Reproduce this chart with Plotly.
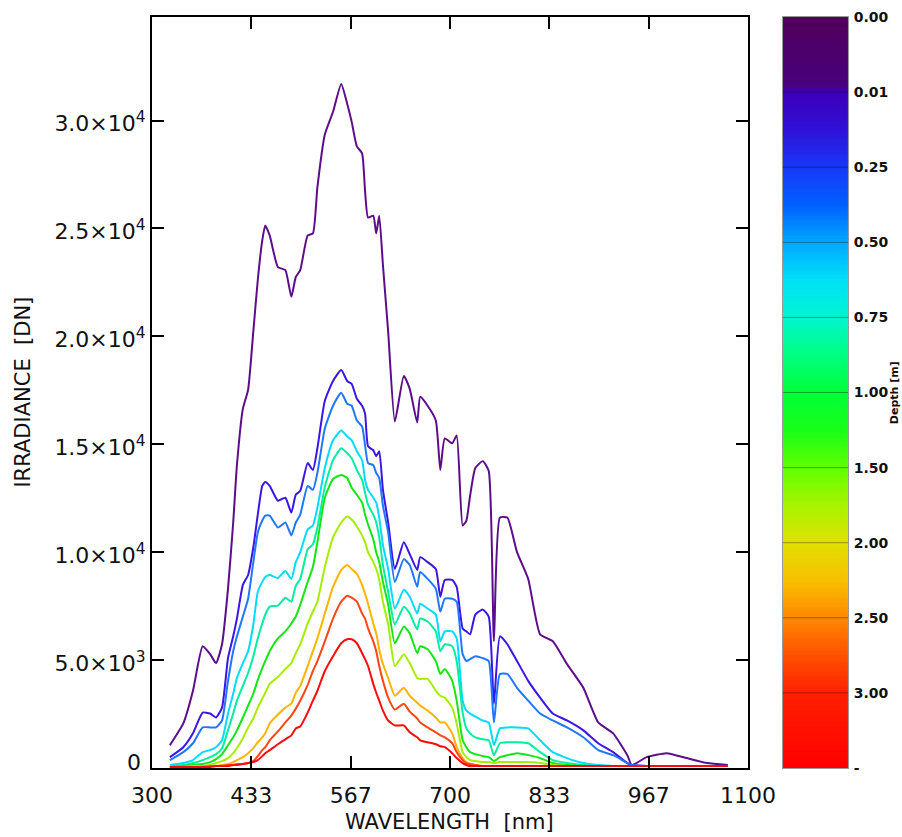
import numpy as np
import plotly.graph_objects as go

# ---------------- data ----------------
wavelength = [324, 342, 355, 368, 378, 386, 394, 402, 409, 414, 422, 429, 436, 442, 448, 452, 458, 469, 479, 487,
              493, 499, 509, 516, 522, 532, 543, 554, 562, 568, 575, 582, 586, 590, 597, 601, 605, 610, 617, 626,
              638, 646, 656, 660, 670, 681, 687, 693, 703, 709, 717, 722, 727, 734, 744, 752, 759, 767, 777, 790,
              805, 821, 838, 857, 879, 899, 919, 938, 944, 964, 991, 1018, 1045, 1073]

depth_labels = ["0.00", "0.01", "0.25", "0.50", "0.75", "1.00", "1.50", "2.00", "2.50", "3.00", "-"]

irr_d000 = [1055, 2064, 3578, 5642, 5275, 4862, 5734, 8302, 11376, 14036, 16651, 17522, 20229, 22614, 24449, 25137, 24678, 23210, 23073, 21834,
            22752, 23073, 24678, 24770, 26900, 29357, 30412, 31696, 30779, 29953, 28806, 28485, 26742, 25504, 25595, 24770, 25595, 23302, 20229, 16055,
            18165, 17568, 16009, 17201, 16788, 16100, 13807, 15275, 15045, 15412, 11238, 11468, 12614, 13899, 14220, 13761, 5871, 11605, 11605, 10000,
            8761, 6192, 5871, 4816, 3715, 2110, 1605, 596, 138, 505, 688, 459, 229, 138]
irr_d001 = [505, 963, 1605, 2569, 2523, 2339, 2798, 5092, 6101, 6926, 8486, 8945, 10229, 11743, 13073, 13256, 13073, 12385, 12523, 11834,
            12660, 12844, 14128, 13807, 14816, 17018, 17935, 18440, 17935, 17798, 17110, 16788, 16421, 14908, 14724, 14449, 14678, 12889, 11376, 9220,
            10458, 9908, 9174, 9770, 9541, 9220, 7936, 8715, 8715, 8394, 6468, 6330, 6192, 7110, 7339, 7018, 2982, 6101, 5734, 4954,
            4037, 3257, 2523, 2202, 1743, 1147, 734, 229, 138, 92, 92, 92, 92, 92]
irr_d025 = [367, 734, 1147, 1881, 1881, 1881, 2202, 4037, 5413, 6101, 7018, 7844, 9541, 10917, 11468, 11697, 11697, 11146, 11376, 10779,
            11376, 11743, 13073, 12889, 13669, 15733, 16788, 17385, 16880, 16788, 16100, 15825, 14954, 14128, 14036, 13669, 13440, 12156, 10917, 8624,
            9679, 9403, 8394, 9082, 8761, 8302, 7247, 7844, 7844, 7706, 5275, 4954, 5046, 5183, 5092, 4954, 2110, 4358, 4358, 3715,
            3119, 2523, 2202, 1881, 1422, 826, 596, 229, 138, 92, 92, 92, 92, 92]
irr_d050 = [138, 229, 367, 734, 826, 963, 1284, 2523, 3440, 4174, 4862, 5413, 6651, 8165, 8624, 8853, 8945, 8807, 9128, 8761,
            9541, 10000, 11055, 11238, 12064, 13899, 15183, 15642, 15366, 15183, 14678, 14266, 13348, 12889, 12523, 12293, 11605, 10321, 9220, 7385,
            8257, 7936, 7156, 7614, 7385, 7110, 5871, 6330, 6330, 6009, 3119, 2660, 2523, 2385, 2202, 2110, 1055, 1835, 1881, 1881,
            1835, 1284, 734, 459, 229, 138, 92, 92, 92, 92, 92, 92, 92, 92]
irr_d075 = [92, 138, 229, 367, 505, 642, 917, 1743, 2523, 3119, 3807, 4404, 5183, 6009, 6697, 7110, 7477, 7523, 7890, 7706,
            8440, 8761, 10137, 10367, 11146, 13027, 14266, 14816, 14587, 14357, 13807, 13348, 12752, 12201, 11743, 11376, 10688, 9403, 8165, 6651,
            7477, 7156, 6422, 6926, 6789, 6330, 5413, 5734, 5642, 4954, 2569, 1835, 1605, 1422, 1330, 1284, 596, 1147, 1193, 1193,
            1147, 734, 367, 229, 138, 92, 92, 92, 92, 92, 92, 92, 92, 92]
irr_d100 = [46, 92, 138, 183, 275, 413, 642, 1055, 1422, 1743, 2339, 2890, 3440, 4082, 4633, 4954, 5413, 6009, 6330, 6697,
            7018, 7569, 8624, 9312, 10458, 12523, 13394, 13578, 13440, 12981, 12660, 12293, 11743, 11284, 10596, 10000, 9541, 8624, 7569, 5780,
            6559, 6238, 5321, 5642, 5504, 4954, 4358, 4587, 4037, 3119, 1284, 963, 734, 642, 550, 505, 321, 505, 596, 688,
            596, 459, 229, 138, 92, 92, 92, 92, 92, 92, 92, 92, 92, 92]
irr_d150 = [46, 46, 92, 92, 138, 229, 321, 459, 688, 917, 1376, 1881, 2294, 2798, 3211, 3486, 3899, 4220, 4587, 4862,
            5321, 5734, 6697, 7247, 7706, 9312, 10688, 11376, 11651, 11513, 11192, 10779, 10458, 10000, 9541, 9220, 8715, 7706, 6651, 4725,
            5275, 4862, 4174, 4128, 4128, 3578, 3349, 3257, 2798, 2064, 734, 505, 367, 321, 275, 275, 229, 275, 275, 275,
            275, 229, 138, 92, 92, 92, 92, 92, 92, 92, 92, 92, 92, 92]
irr_d200 = [46, 46, 46, 92, 92, 92, 138, 183, 275, 367, 505, 688, 917, 1193, 1422, 1605, 2064, 2477, 2798, 2982,
            3486, 3807, 4725, 5413, 6009, 7156, 8394, 9174, 9403, 9220, 8991, 8486, 8073, 7614, 6697, 6238, 5504, 4816, 4174, 3349,
            3715, 3349, 3027, 2890, 2660, 2339, 2110, 2110, 1605, 963, 459, 275, 183, 138, 92, 92, 92, 92, 92, 92,
            92, 92, 92, 92, 92, 92, 92, 92, 92, 92, 92, 92, 92, 92]
irr_d250 = [46, 46, 46, 46, 92, 92, 92, 138, 138, 183, 183, 229, 321, 550, 826, 963, 1284, 1697, 2110, 2431,
            2752, 3119, 3853, 4495, 4954, 5871, 6926, 7706, 7981, 7890, 7706, 7156, 6926, 6468, 5871, 5413, 4725, 4037, 3257, 2706,
            2982, 2615, 2294, 2110, 1881, 1651, 1514, 1422, 1147, 734, 367, 229, 183, 138, 92, 92, 92, 92, 92, 92,
            92, 92, 92, 92, 92, 92, 92, 92, 92, 92, 92, 92, 92, 92]
irr_d300 = [46, 46, 46, 46, 46, 92, 92, 92, 138, 138, 183, 229, 275, 367, 550, 688, 826, 1101, 1330, 1514,
            1835, 1927, 2569, 3119, 3578, 4495, 5183, 5780, 5963, 5963, 5780, 5321, 5046, 4725, 3899, 3486, 3119, 2660, 2202, 1972,
            1972, 1651, 1422, 1284, 1193, 1101, 1009, 963, 688, 459, 229, 138, 92, 92, 92, 92, 92, 92, 92, 92,
            92, 92, 92, 92, 92, 92, 92, 92, 92, 92, 92, 92, 92, 92]

x_tick_vals = [300, 433.333, 566.667, 700, 833.333, 966.667, 1100]
x_tick_text = ["300", "433", "567", "700", "833", "967", "1100"]
y_tick_vals = [0, 5000, 10000, 15000, 20000, 25000, 30000]
y_tick_text = ["", "5.0×10<sup>3</sup>", "1.0×10<sup>4</sup>", "1.5×10<sup>4</sup>",
               "2.0×10<sup>4</sup>", "2.5×10<sup>4</sup>", "3.0×10<sup>4</sup>"]
y_zero_label = "0"

series = [irr_d000, irr_d001, irr_d025, irr_d050, irr_d075, irr_d100, irr_d150, irr_d200, irr_d250, irr_d300]
line_colors = ["#5c0e8a", "#3c14e6", "#1e78ff", "#00dcff", "#00eea0",
               "#14e614", "#a6ee00", "#ffb400", "#ff4614", "#ff0a0a"]

cscale = [[0.00, "#50005a"], [0.09, "#48007c"], [0.10, "#3c00b8"], [0.15, "#3010d8"],
          [0.20, "#1838f8"], [0.25, "#0060ff"], [0.30, "#00a8ff"], [0.35, "#00e0f8"],
          [0.40, "#00f5d0"], [0.45, "#00ff80"], [0.50, "#00ff38"], [0.55, "#18ff18"],
          [0.60, "#60ff00"], [0.65, "#a8f400"], [0.70, "#e0e000"], [0.75, "#f8c000"],
          [0.80, "#ff8800"], [0.85, "#ff5000"], [0.90, "#ff2000"], [1.00, "#ff0000"]]

FONT = "DejaVu Sans"

fig = go.Figure()
for vals, col, lab in zip(series, line_colors, depth_labels):
    fig.add_trace(go.Scatter(x=wavelength, y=vals, mode="lines", name=lab,
                             line=dict(color=col, width=2, shape="spline", smoothing=0.5),
                             showlegend=False, xaxis="x", yaxis="y"))

n_seg = len(depth_labels) - 1
cb_levels = np.linspace(0, n_seg, 301)
fig.add_trace(go.Heatmap(x=[0, 1], y=cb_levels, z=[[v, v] for v in cb_levels],
                         colorscale=cscale, zmin=0, zmax=n_seg, showscale=False,
                         xaxis="x2", yaxis="y2", hoverinfo="skip"))

for k in range(1, n_seg):
    fig.add_shape(type="line", xref="x2 domain", yref="y2", x0=0, x1=1, y0=k, y1=k,
                  line=dict(color="rgba(0,0,0,0.35)", width=1))

axis_common = dict(showgrid=False, zeroline=False, showline=True, linecolor="black",
                   linewidth=2, mirror="ticks", ticks="inside", ticklen=12, tickwidth=1.5,
                   tickcolor="black", tickfont=dict(family=FONT, size=22, color="#111"))

fig.update_layout(
    width=902, height=837,
    margin=dict(l=152, r=40, t=9, b=69),
    paper_bgcolor="white", plot_bgcolor="white",
    font=dict(family=FONT, color="#111"),
    xaxis=dict(domain=[0, 0.8394], range=[300, 1100], tickmode="array",
               tickvals=x_tick_vals, ticktext=x_tick_text, anchor="y",
               ticklabelstandoff=7, **axis_common),
    yaxis=dict(domain=[0, 1], range=[0, 34800], tickmode="array",
               tickvals=y_tick_vals, ticktext=y_tick_text, anchor="x",
               ticklabelstandoff=0, ticklabelshift=3, **axis_common),
    xaxis2=dict(domain=[0.8887, 0.9803], anchor="y2", range=[-0.5, 1.5],
                showticklabels=False, ticks="", showgrid=False, zeroline=False,
                showline=True, linecolor="#999", linewidth=1, mirror=True),
    yaxis2=dict(domain=[0, 1], anchor="x2", range=[n_seg, 0], side="right",
                tickmode="array", tickvals=list(range(n_seg + 1)), ticktext=depth_labels,
                ticks="", showgrid=False, zeroline=False, showline=True,
                linecolor="#999", linewidth=1, mirror=True, ticklabelstandoff=2,
                tickfont=dict(family=FONT, size=14, color="#111", weight="bold")),
    annotations=[
        dict(text=y_zero_label, xref="paper", yref="y", x=0, y=y_tick_vals[0],
             xanchor="right", yanchor="middle", xshift=-9, yshift=6, showarrow=False,
             font=dict(family=FONT, size=22, color="#111")),
        dict(text="IRRADIANCE  [DN]", xref="paper", yref="paper", x=-0.183, y=0.5,
             textangle=-90, showarrow=False, xanchor="center", yanchor="middle",
             font=dict(family=FONT, size=21, color="#111")),
        dict(text="WAVELENGTH  [nm]", xref="paper", yref="paper", x=0.4197, y=-0.0725,
             showarrow=False, xanchor="center", yanchor="middle",
             font=dict(family=FONT, size=21, color="#111")),
        dict(text="Depth [m]", xref="paper", yref="paper", x=1.046, y=0.5,
             textangle=-90, showarrow=False, xanchor="center", yanchor="middle",
             font=dict(family=FONT, size=11, color="#111", weight="bold")),
    ],
)

fig.write_html("out.html")
